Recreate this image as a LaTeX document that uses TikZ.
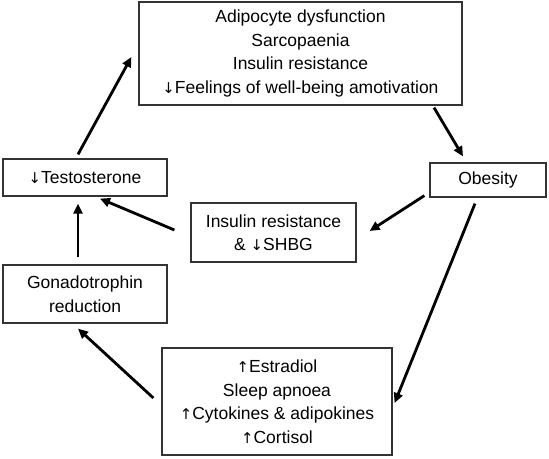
\documentclass[tikz,border=0pt]{standalone}
\usepackage{fontspec}
\setmainfont{Liberation Sans}
\newfontfamily\arrfont{DejaVu Sans}[Scale=0.85]
\newcommand{\dnar}{{\arrfont ↓}}
\newcommand{\upar}{{\arrfont ↑}}
\usetikzlibrary{arrows.meta}
\begin{document}
\begin{tikzpicture}[x=1pt,y=-1pt,
  box/.style={draw=black!80,line width=1.2pt,align=center,inner sep=0pt,
    font=\fontsize{17.5}{23.5}\selectfont},
  arr/.style={line width=2.8pt,-{Triangle[length=10pt,width=9pt]}}]
\useasboundingbox (0,0) rectangle (549,458);
\node[box,minimum width=323pt,minimum height=103pt] (top) at (300.5,53.5)
  {Adipocyte dysfunction\\Sarcopaenia\\Insulin resistance\\\dnar Feelings of well-being amotivation};
\node[box,minimum width=164pt,minimum height=37pt] (test) at (85,177.5) {\dnar Testosterone};
\node[box,minimum width=116pt,minimum height=34pt] (obe) at (488,180) {Obesity};
\node[box,minimum width=165pt,minimum height=59pt] (ins) at (273.5,232.5)
  {Insulin resistance\\\& \dnar SHBG};
\node[box,minimum width=164pt,minimum height=58pt] (gon) at (85,294)
  {Gonadotrophin\\reduction};
\node[box,minimum width=230pt,minimum height=107pt] (bot) at (277,401.5)
  {\upar Estradiol\\Sleep apnoea\\\upar Cytokines \& adipokines\\\upar Cortisol};
\draw[arr] ([shift={(133.5,2)}]top.south) -- ([shift={(-25,-6)}]obe.north);
\draw[arr] ([shift={(-5,-2)}]obe.south west) -- ([shift={(13,-1.5)}]ins.east);
\draw[arr] ([shift={(-13,6)}]obe.south) -- ([shift={(2,1.5)}]bot.east);
\draw[arr] ([shift={(-16,-2.5)}]ins.west) -- ([shift={(15,2)}]test.south);
\draw[arr] ([shift={(-7,-7)}]gon.north) -- ([shift={(-7,7)}]test.south);
\draw[arr] ([shift={(-8,-3.5)}]bot.west) -- ([shift={(-7,5)}]gon.south);
\draw[arr] ([shift={(-7,-4)}]test.north) -- ([shift={(-7,3.5)}]top.west);
\end{tikzpicture}
\end{document}
